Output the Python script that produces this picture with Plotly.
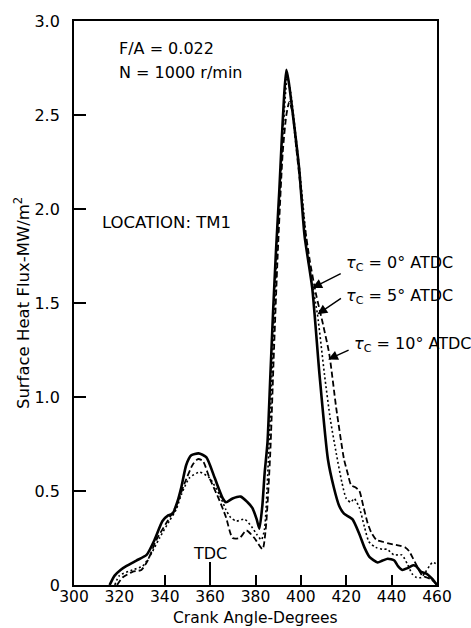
import plotly.graph_objects as go

# ---------------- data ----------------
angle_0 = [315.7, 317.9, 320.5, 323, 327.5, 332, 335.5, 339, 341.5, 343.5, 345.5, 347.3, 349.5,
           351.7, 354.9, 358.3, 362, 365.6, 367, 369.9, 373.5, 376.5, 378.6, 380.5, 381.7, 383,
           384, 385.3, 386.5, 387.7, 389, 390.5, 391.5, 392.6, 393.6, 394.6, 396.3, 399.2, 401.6,
           405, 408.2, 411.9, 414.5, 416.9, 419, 422.7, 425.8, 428, 430.2, 433.8, 436, 438.3,
           441.2, 442.8, 444.7, 447, 449.5, 450.8, 453, 455.3, 458.8, 460]
flux_0 = [0.0, 0.05, 0.08, 0.10, 0.13, 0.16, 0.24, 0.34, 0.37, 0.38, 0.44, 0.52, 0.64,
          0.69, 0.70, 0.68, 0.57, 0.46, 0.44, 0.46, 0.47, 0.44, 0.41, 0.35, 0.30, 0.42,
          0.59, 0.76, 1.10, 1.44, 1.77, 2.10, 2.35, 2.60, 2.74, 2.68, 2.52, 2.22, 1.86,
          1.58, 1.12, 0.67, 0.52, 0.42, 0.38, 0.35, 0.27, 0.20, 0.15, 0.12, 0.13, 0.14,
          0.13, 0.10, 0.08, 0.09, 0.105, 0.10, 0.07, 0.06, 0.02, 0.0]

angle_5 = [318, 320, 325.8, 330.2, 333.3, 337.7, 342, 345, 347.3, 350.9, 355.3, 359.7, 364.1,
           367, 369, 371.6, 375.2, 378.3, 380.5, 382.6, 384, 385.5, 386.7, 388, 389.5, 391,
           392.5, 394, 395.5, 397, 399.5, 401.5, 403, 405, 407.3, 410.4, 413, 415.6, 418, 420,
           422, 423.5, 425.8, 428, 430, 433, 436, 438, 441, 444.5, 447, 449, 451, 453, 455,
           456.6, 458, 460]
flux_5 = [0, 0.05, 0.08, 0.10, 0.15, 0.25, 0.34, 0.40, 0.48, 0.57, 0.60, 0.57, 0.48,
          0.40, 0.36, 0.34, 0.35, 0.31, 0.27, 0.24, 0.30, 0.62, 0.95, 1.35, 1.78, 2.15,
          2.48, 2.70, 2.62, 2.47, 2.20, 1.95, 1.75, 1.60, 1.44, 1.12, 0.88, 0.70, 0.55, 0.46,
          0.44, 0.46, 0.41, 0.31, 0.23, 0.20, 0.19, 0.19, 0.16, 0.16, 0.11, 0.06, 0.04, 0.04, 0.07,
          0.10, 0.12, 0.11]

angle_10 = [319, 321.4, 325.8, 329.7, 332.5, 336.3, 340.7, 345, 348.7, 352.3, 354.6, 356.8,
            359.7, 364.1, 367, 369.9, 373, 376, 379.5, 383.1, 384.6, 386.5, 388, 389.8, 392,
            393.6, 394.9, 396.2, 398, 400, 401.6, 404, 406.8, 409.5, 412.5, 415.6, 419, 420.5,
            422.2, 424, 425.8, 427.5, 429.4, 431, 433.3, 436, 439, 443.4, 446, 447.7, 449.5,
            450.8, 452, 453.5, 455.5, 457.5, 460]
flux_10 = [0, 0.04, 0.07, 0.08, 0.13, 0.24, 0.33, 0.42, 0.54, 0.64, 0.67, 0.66,
           0.57, 0.45, 0.36, 0.25, 0.25, 0.29, 0.25, 0.19, 0.31, 0.70, 1.20, 1.76, 2.30,
           2.50, 2.57, 2.52, 2.32, 2.10, 1.92, 1.72, 1.54, 1.40, 1.23, 0.94, 0.67, 0.60,
           0.53, 0.52, 0.50, 0.42, 0.33, 0.28, 0.24, 0.23, 0.22, 0.21, 0.20, 0.18, 0.14,
           0.11, 0.08, 0.05, 0.04, 0.03, 0]

x_tick_vals = [300, 320, 340, 360, 380, 400, 420, 440, 460]
x_tick_text = ["300", "320", "340", "360", "380", "400", "420", "440", "460"]
x_mark_vals = [340, 380, 400, 420, 440]
tdc_angle = [360]
y_tick_vals = [0, 0.5, 1.0, 1.5, 2.0, 2.5, 3.0]
y_tick_text = ["0", "0.5", "1.0", "1.5", "2.0", "2.5", "3.0"]

series_labels = ["<i>τ</i><sub>C</sub> = 0° ATDC",
                 "<i>τ</i><sub>C</sub> = 5° ATDC",
                 "<i>τ</i><sub>C</sub> = 10° ATDC"]

FONT = "DejaVu Sans"

fig = go.Figure()
fig.add_trace(go.Scatter(x=angle_0, y=flux_0, mode="lines",
                         line=dict(color="black", width=2.6, shape="spline", smoothing=0.6),
                         showlegend=False))
fig.add_trace(go.Scatter(x=angle_5, y=flux_5, mode="lines",
                         line=dict(color="black", width=1.6, dash="2px,2.5px", shape="spline", smoothing=0.6),
                         showlegend=False))
fig.add_trace(go.Scatter(x=angle_10, y=flux_10, mode="lines",
                         line=dict(color="black", width=1.8, dash="6px,3px", shape="spline", smoothing=0.6),
                         showlegend=False))
# invisible traces so the overlay tick axes get drawn
fig.add_trace(go.Scatter(x=[None], y=[None], xaxis="x2", yaxis="y", showlegend=False, hoverinfo="skip"))
fig.add_trace(go.Scatter(x=[None], y=[None], xaxis="x3", yaxis="y", showlegend=False, hoverinfo="skip"))

xr = [300, 460]
yr = [0, 3.0]

fig.update_layout(
    width=471, height=628,
    margin=dict(l=74, r=34, t=15, b=43),
    paper_bgcolor="white", plot_bgcolor="white",
    font=dict(family=FONT, color="black", size=16),
    xaxis=dict(range=xr, tickvals=x_tick_vals, ticktext=x_tick_text, ticks="",
               showline=True, linecolor="black", linewidth=1.8, mirror=True,
               showgrid=False, zeroline=False, tickfont=dict(size=15.5),
               ticklabelstandoff=-4),
    xaxis2=dict(range=xr, overlaying="x", anchor="y", side="bottom", tickvals=x_mark_vals,
                ticks="inside", ticklen=10, tickwidth=1.5, tickcolor="black",
                showticklabels=False, showline=False, showgrid=False, zeroline=False),
    xaxis3=dict(range=xr, overlaying="x", anchor="y", side="bottom", tickvals=tdc_angle,
                ticks="inside", ticklen=23, tickwidth=1.5, tickcolor="black",
                showticklabels=False, showline=False, showgrid=False, zeroline=False),
    yaxis=dict(range=yr, tickvals=y_tick_vals, ticktext=y_tick_text, ticks="inside",
               ticklen=12, tickwidth=1.5, tickcolor="black",
               showline=True, linecolor="black", linewidth=1.8, mirror=True,
               showgrid=False, zeroline=False, tickfont=dict(size=16),
               ticklabelstandoff=9),
)

ann = []
# text labels
ann.append(dict(x=318.8, y=2.853, xref="x", yref="y", text="F/A = 0.022", showarrow=False,
                xanchor="left", yanchor="middle", font=dict(size=16)))
ann.append(dict(x=318.8, y=2.726, xref="x", yref="y", text="N = 1000 r/min", showarrow=False,
                xanchor="left", yanchor="middle", font=dict(size=16)))
ann.append(dict(x=311.3, y=1.93, xref="x", yref="y", text="LOCATION: TM1", showarrow=False,
                xanchor="left", yanchor="middle", font=dict(size=16.5)))
ann.append(dict(x=360, y=0.168, xref="x", yref="y", text="TDC", showarrow=False,
                xanchor="center", yanchor="middle", font=dict(size=16)))

# series labels and arrows
label_pos = [(419.2, 1.71), (419.2, 1.537), (422.7, 1.28)]
arrow_head = [(405.0, 1.58), (407.3, 1.44), (412.0, 1.20)]
arrow_tail = [(30, -15), (25, -17), (22, -10)]
for lbl, (lx, ly), (hx, hy), (tx, ty) in zip(series_labels, label_pos, arrow_head, arrow_tail):
    ann.append(dict(x=lx, y=ly, xref="x", yref="y", text=lbl, showarrow=False,
                    xanchor="left", yanchor="middle", font=dict(size=16)))
    ann.append(dict(x=hx, y=hy, xref="x", yref="y", text="", showarrow=True,
                    ax=tx, ay=ty, arrowhead=2, arrowsize=1.4, arrowwidth=1.4,
                    arrowcolor="black"))

# axis titles
ann.append(dict(x=0.5, y=-0.0754, xref="paper", yref="paper", text="Crank Angle-Degrees",
                showarrow=False, xanchor="center", yanchor="bottom", font=dict(size=15.5),
                borderpad=0))
ann.append(dict(x=-0.143, y=0.5, xref="paper", yref="paper", text="Surface Heat Flux-MW/m<sup>2</sup>",
                showarrow=False, xanchor="center", yanchor="middle", textangle=-90,
                font=dict(size=16.5)))

fig.update_layout(annotations=ann)
fig.write_html("out.html")
